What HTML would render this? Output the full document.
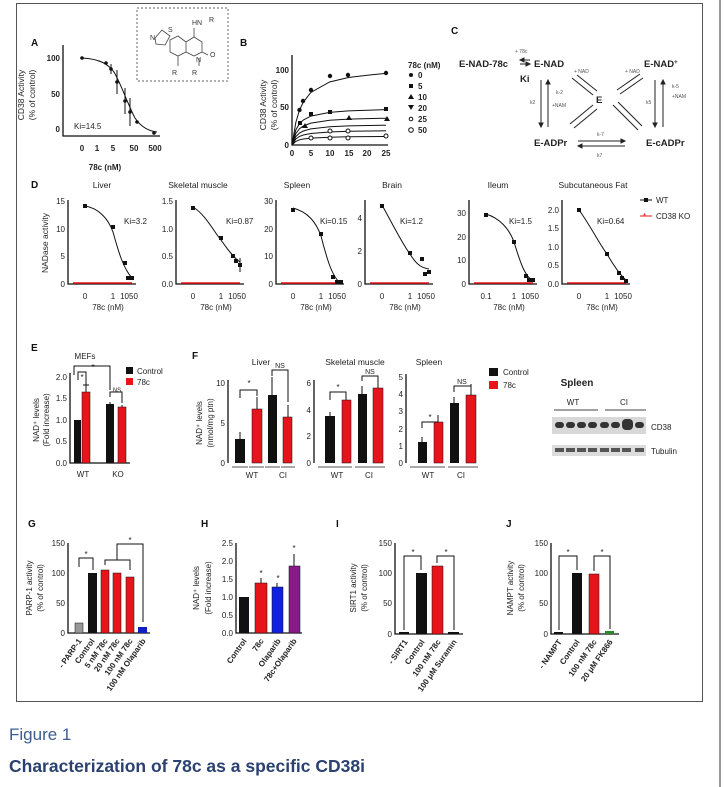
<!DOCTYPE html>
<html><head><meta charset="utf-8"><style>
html,body{margin:0;padding:0;background:#fff;}
svg{display:block;font-family:"Liberation Sans",sans-serif;}
.t{font-size:8px;fill:#222;}
.tb{font-size:8px;fill:#222;font-weight:bold;}
.ti{font-size:8.5px;fill:#222;}
.L{font-size:10px;font-weight:bold;fill:#111;}
.ax{stroke:#111;stroke-width:1.3;fill:none;}
.cv{stroke:#111;stroke-width:1;fill:none;}
.rd{stroke:#e8141c;stroke-width:1.5;}
</style></head><body>
<svg width="724" height="787" viewBox="0 0 724 787">
<rect x="16.5" y="3.5" width="686" height="698" fill="none" stroke="#555" stroke-width="1"/>
<line x1="720" y1="0" x2="720" y2="787" stroke="#999" stroke-width="2"/>

<!-- Panel A -->
<text class="L" x="31" y="46">A</text>
<rect x="137" y="8" width="91" height="73" fill="none" stroke="#666" stroke-dasharray="2,2"/>
<g font-size="7" fill="#333">
<text x="150" y="40">N</text><text x="168" y="32">S</text><text x="192" y="25">HN</text><text x="209" y="22">R</text>
<text x="210" y="57">O</text><text x="196" y="62">N</text><text x="172" y="75">R</text><text x="192" y="75">R</text>
</g>
<path d="M155,38 L162,30 L170,36 L165,45 L156,44 Z M170,40 L178,36 L186,42 L186,52 L178,56 L170,52 Z M186,42 L194,37 L202,42 L202,52 L194,56 L186,52 M194,37 L194,28 M202,52 L208,55 M178,56 L178,66 M199,58 L199,66" stroke="#444" stroke-width="0.8" fill="none"/>
<text class="ti" transform="translate(24,95) rotate(-90)" text-anchor="middle">CD38 Activity</text>
<text class="ti" transform="translate(35,95) rotate(-90)" text-anchor="middle">(% of control)</text>
<path class="ax" d="M63,45 V136 H160"/>
<g class="tb" text-anchor="end"><text x="60" y="61">100</text><text x="60" y="97">50</text><text x="60" y="132">0</text></g>
<g class="tb" text-anchor="middle"><text x="82" y="151">0</text><text x="97" y="151">1</text><text x="113" y="151">5</text><text x="134" y="151">50</text><text x="155" y="151">500</text></g>
<text class="tb" x="105" y="170" text-anchor="middle" font-size="8.5">78c (nM)</text>
<text class="t" x="74" y="129">Ki=14.5</text>
<path class="cv" d="M82,58 C100,59 108,64 114,72 C122,86 128,105 135,118 C141,127 148,131 157,132"/>
<g fill="#111"><circle cx="82" cy="58" r="1.8"/><circle cx="106" cy="63" r="1.8"/><circle cx="111" cy="69" r="1.8"/><circle cx="117" cy="82" r="1.8"/><circle cx="125" cy="101" r="1.8"/><circle cx="130" cy="112" r="1.8"/><circle cx="137" cy="122" r="1.8"/><circle cx="154" cy="133" r="1.8"/></g>
<path class="cv" d="M117,70 V94 M125,88 V114 M130,98 V126 M111,64 V74"/>

<!-- Panel B -->
<text class="L" x="240" y="46">B</text>
<text class="ti" transform="translate(266,105) rotate(-90)" text-anchor="middle">CD38 Activity</text>
<text class="ti" transform="translate(277,105) rotate(-90)" text-anchor="middle">(% of control)</text>
<path class="ax" d="M292,55 V145 H388"/>
<g class="tb" text-anchor="end"><text x="289" y="73">100</text><text x="289" y="110">50</text><text x="289" y="148">0</text></g>
<g class="tb" text-anchor="middle"><text x="292" y="156">0</text><text x="311" y="156">5</text><text x="330" y="156">10</text><text x="349" y="156">15</text><text x="367" y="156">20</text><text x="386" y="156">25</text></g>
<g class="cv">
<path d="M292,145 L295.8,122.5 L299.5,110 L303.3,102.2 L310.8,92.5 L329.6,82 L348.4,77.5 L367.2,75.2 L386,73.4"/>
<path d="M292,145 L295.8,130 L299.5,123.6 L303.3,120 L310.8,116.1 L329.6,112.4 L348.4,110.9 L386,109.6"/>
<path d="M292,145 L295.8,133.6 L299.5,128.7 L303.3,126 L310.8,123.1 L329.6,120.2 L348.4,119.1 L386,118.2"/>
<path d="M292,145 L295.8,136.6 L299.5,133 L303.3,131 L310.8,128.9 L329.6,126.8 L348.4,125.9 L386,125.2"/>
<path d="M292,145 L295.8,139 L299.5,136.4 L303.3,135 L310.8,133.5 L329.6,132 L348.4,131.3 L386,130.8"/>
<path d="M292,145 L295.8,141.4 L299.5,139.8 L303.3,139 L310.8,138.1 L329.6,137.2 L348.4,136.8 L386,136.5"/>
</g>
<g fill="#111"><circle cx="299.5" cy="110" r="2.2"/><circle cx="303" cy="101" r="2.2"/><circle cx="311" cy="90" r="2.2"/><circle cx="330" cy="76" r="2.2"/><circle cx="348" cy="75" r="2.2"/><circle cx="386" cy="73" r="2.2"/>
<rect x="298" y="121" width="4" height="4"/><rect x="309" y="112" width="4" height="4"/><rect x="328" y="110" width="4" height="4"/><rect x="384" y="107" width="4" height="4"/>
<path d="M346,120 l3,-5 l3,5z M384,121 l3,-5 l3,5z M302,128 l3,-5 l3,5z"/></g>
<g fill="#fff" stroke="#111"><circle cx="348" cy="131" r="2"/><circle cx="330" cy="131" r="2"/><circle cx="311" cy="138" r="2"/><circle cx="330" cy="138" r="2"/><circle cx="348" cy="138" r="2"/><circle cx="386" cy="136" r="2"/></g>
<text class="tb" x="408" y="68">78c (nM)</text>
<g class="tb"><circle cx="411" cy="75" r="2" fill="#111"/><text x="418" y="78">0</text>
<rect x="409" y="84" width="4" height="4" fill="#111"/><text x="418" y="89">5</text>
<path d="M408,99 l3,-5 l3,5z" fill="#111"/><text x="418" y="100">10</text>
<path d="M408,105 l3,5 l3,-5z" fill="#111"/><text x="418" y="111">20</text>
<circle cx="411" cy="119" r="1.8" fill="none" stroke="#111"/><text x="418" y="122">25</text>
<circle cx="411" cy="130" r="2.3" fill="none" stroke="#111"/><text x="418" y="133">50</text></g>

<!-- Panel C -->
<text class="L" x="451" y="34">C</text>
<g font-size="9.5" font-weight="bold" fill="#222">
<text x="459" y="67">E-NAD-78c</text><text x="534" y="67">E-NAD</text><text x="520" y="82">Ki</text>
<text x="644" y="67">E-NAD<tspan font-size="6" dy="-3">+</tspan></text><text x="596" y="103">E</text>
<text x="534" y="146">E-ADPr</text><text x="646" y="146">E-cADPr</text></g>
<g font-size="5" fill="#555"><text x="515" y="53">+ 78c</text><text x="574" y="73">+ NAD</text><text x="625" y="73">+ NAD</text>
<text x="552" y="107">+NAM</text><text x="672" y="98">+NAM</text><text x="530" y="104">k2</text><text x="556" y="94">k-2</text><text x="646" y="104">k5</text><text x="672" y="88">k-5</text><text x="597" y="136">k-7</text><text x="597" y="157">k7</text></g>
<g stroke="#222" stroke-width="1" fill="#222">
<path d="M520,60 H530 M520,64 H530" /><path d="M541,80 V127 M548,127 V80 M655,80 V127 M663,127 V80 M572,78 L593,95 M577,75 L597,91 M617,90 L640,74 M620,94 L643,78 M593,105 L570,124 M597,109 L574,128 M613,105 L638,130 M618,102 L642,126 M578,141 H625 M578,146 H625"/>
<path d="M541,127 l-2,-4 h4z M548,80 l-2,4 h4z M655,127 l-2,-4 h4z M663,80 l-2,4 h4z M625,141 l-4,-2 v4z M578,146 l4,-2 v4z M520,60 l4,-2 v4z M530,64 l-4,-2 v4z"/>
</g>

<!-- Panel D -->
<text class="L" x="31" y="188">D</text>
<text class="ti" transform="translate(48,243) rotate(-90)" text-anchor="middle">NADase activity</text>
<g class="ti" text-anchor="middle"><text x="102" y="188">Liver</text><text x="198" y="188">Skeletal muscle</text><text x="297" y="188">Spleen</text><text x="392" y="188">Brain</text><text x="498" y="188">Ileum</text><text x="593" y="188">Subcutaneous Fat</text></g>
<g transform="translate(68,0)">
<path class="ax" d="M0,200 V284 H68"/><line class="rd" x1="5" y1="283" x2="64" y2="283"/>
<g class="t" text-anchor="end"><text x="-3" y="204">15</text><text x="-3" y="232">10</text><text x="-3" y="259">5</text><text x="-3" y="287">0</text></g>
<path class="cv" d="M17,206 C30,208 40,218 45,232 C50,250 55,268 64,278"/>
<g fill="#111"><rect x="15" y="204" width="4" height="4"/><rect x="43" y="225" width="4" height="4"/><rect x="55" y="261" width="4" height="4"/><rect x="58" y="276" width="4" height="4"/><rect x="62" y="276" width="4" height="4"/></g>
<text class="t" x="56" y="224">Ki=3.2</text></g>
<g transform="translate(176,0)">
<path class="ax" d="M0,200 V284 H68"/><line class="rd" x1="5" y1="283" x2="64" y2="283"/>
<g class="t" text-anchor="end"><text x="-3" y="204">1.5</text><text x="-3" y="232">1.0</text><text x="-3" y="259">0.5</text><text x="-3" y="287">0.0</text></g>
<path class="cv" d="M17,207 C30,215 38,232 45,240 C52,250 58,258 64,262"/>
<g fill="#111"><rect x="15" y="206" width="4" height="4"/><rect x="43" y="236" width="4" height="4"/><rect x="55" y="254" width="4" height="4"/><rect x="58" y="259" width="4" height="4"/><rect x="62" y="263" width="4" height="4"/></g>
<path class="cv" d="M64,258 V272"/><text class="t" x="50" y="224">Ki=0.87</text></g>
<g transform="translate(276,0)">
<path class="ax" d="M0,200 V284 H68"/><line class="rd" x1="5" y1="283" x2="64" y2="283"/>
<g class="t" text-anchor="end"><text x="-3" y="204">30</text><text x="-3" y="232">20</text><text x="-3" y="259">10</text><text x="-3" y="287">0</text></g>
<path class="cv" d="M17,208 C32,212 40,222 45,236 C50,255 55,275 64,283"/>
<g fill="#111"><rect x="15" y="208" width="4" height="4"/><rect x="43" y="232" width="4" height="4"/><rect x="55" y="275" width="4" height="4"/><rect x="59" y="280" width="4" height="4"/><rect x="63" y="280" width="4" height="4"/></g>
<text class="t" x="44" y="224">Ki=0.15</text></g>
<g transform="translate(365,0)">
<path class="ax" d="M0,200 V284 H68"/><line class="rd" x1="5" y1="283" x2="64" y2="283"/>
<g class="t" text-anchor="end"><text x="-3" y="221">4</text><text x="-3" y="254">2</text><text x="-3" y="287">0</text></g>
<path class="cv" d="M17,205 C28,225 38,245 45,254 C52,266 58,268 64,269"/>
<g fill="#111"><rect x="15" y="204" width="4" height="4"/><rect x="43" y="251" width="4" height="4"/><rect x="55" y="257" width="4" height="4"/><rect x="58" y="272" width="4" height="4"/><rect x="62" y="270" width="4" height="4"/></g>
<text class="t" x="35" y="224">Ki=1.2</text></g>
<g transform="translate(469,0)">
<path class="ax" d="M0,200 V284 H68"/><line class="rd" x1="5" y1="283" x2="64" y2="283"/>
<g class="t" text-anchor="end"><text x="-3" y="216">30</text><text x="-3" y="240">20</text><text x="-3" y="263">10</text><text x="-3" y="287">0</text></g>
<path class="cv" d="M17,214 C30,218 40,228 45,242 C50,258 55,276 64,281"/>
<g fill="#111"><rect x="15" y="213" width="4" height="4"/><rect x="43" y="240" width="4" height="4"/><rect x="55" y="274" width="4" height="4"/><rect x="58" y="278" width="4" height="4"/><rect x="62" y="278" width="4" height="4"/></g>
<text class="t" x="40" y="224">Ki=1.5</text></g>
<g transform="translate(562,0)">
<path class="ax" d="M0,200 V284 H68"/><line class="rd" x1="5" y1="283" x2="64" y2="283"/>
<g class="t" text-anchor="end"><text x="-3" y="213">2.0</text><text x="-3" y="231">1.5</text><text x="-3" y="250">1.0</text><text x="-3" y="268">0.5</text><text x="-3" y="287">0.0</text></g>
<path class="cv" d="M17,210 C28,225 38,245 45,254 C52,266 58,275 64,280"/>
<g fill="#111"><rect x="15" y="208" width="4" height="4"/><rect x="43" y="252" width="4" height="4"/><rect x="55" y="271" width="4" height="4"/><rect x="58" y="276" width="4" height="4"/><rect x="62" y="279" width="4" height="4"/></g>
<text class="t" x="35" y="224">Ki=0.64</text></g>
<g class="t" text-anchor="middle">
<text x="85" y="299">0</text><text x="113" y="299">1</text><text x="129" y="299">1050</text><text x="108" y="310">78c (nM)</text>
<text x="193" y="299">0</text><text x="221" y="299">1</text><text x="237" y="299">1050</text><text x="216" y="310">78c (nM)</text>
<text x="293" y="299">0</text><text x="321" y="299">1</text><text x="337" y="299">1050</text><text x="316" y="310">78c (nM)</text>
<text x="382" y="299">0</text><text x="410" y="299">1</text><text x="426" y="299">1050</text><text x="405" y="310">78c (nM)</text>
<text x="486" y="299">0.1</text><text x="514" y="299">1</text><text x="530" y="299">1050</text><text x="509" y="310">78c (nM)</text>
<text x="579" y="299">0</text><text x="607" y="299">1</text><text x="623" y="299">1050</text><text x="602" y="310">78c (nM)</text></g>
<g class="t"><rect x="644" y="198" width="4" height="4" fill="#111"/><line x1="640" y1="200" x2="652" y2="200" stroke="#111"/><text x="656" y="203">WT</text>
<line x1="640" y1="216" x2="652" y2="216" stroke="#e8141c"/><text x="643" y="219" fill="#e8141c">*</text><text x="656" y="219">CD38 KO</text></g>

<!-- Panel E -->
<text class="L" x="31" y="351">E</text>
<text class="t" x="85" y="359" text-anchor="middle">MEFs</text>
<text class="t" transform="translate(39,420) rotate(-90)" text-anchor="middle">NAD⁺ levels</text>
<text class="t" transform="translate(49,420) rotate(-90)" text-anchor="middle">(Fold increase)</text>
<path class="ax" d="M70,373 V463 H130"/>
<g class="t" text-anchor="end"><text x="67" y="380">2.0</text><text x="67" y="401">1.5</text><text x="67" y="423">1.0</text><text x="67" y="444">0.5</text><text x="67" y="466">0.0</text></g>
<rect x="74" y="420" width="7" height="43" fill="#111"/><rect x="82" y="392" width="8" height="71" fill="#e8141c" stroke="#111" stroke-width=".5"/>
<rect x="106" y="404" width="8" height="59" fill="#111"/><rect x="118" y="407" width="8" height="56" fill="#e8141c" stroke="#111" stroke-width=".5"/>
<path class="cv" d="M86,392 V385 M83,385 h6 M78,380 V372 H86 V385 M110,404 V402 M122,407 V405 M110,397 V392 H122 V403 M74,375 V366 H110 V390"/>
<g class="t" text-anchor="middle"><text x="82" y="380">*</text><text x="93" y="370">*</text><text x="117" y="392" font-size="6">NS</text>
<text x="83" y="477">WT</text><text x="118" y="477">KO</text></g>
<rect x="126" y="367" width="7" height="7" fill="#111"/><text class="t" x="137" y="374">Control</text>
<rect x="126" y="378" width="7" height="7" fill="#e8141c"/><text class="t" x="137" y="385">78c</text>

<!-- Panel F -->
<text class="L" x="192" y="359">F</text>
<text class="t" transform="translate(202,423) rotate(-90)" text-anchor="middle">NAD⁺ levels</text>
<text class="t" transform="translate(213,423) rotate(-90)" text-anchor="middle">(nmol/mg ptn)</text>
<g class="ti" text-anchor="middle"><text x="261" y="365">Liver</text><text x="355" y="365">Skeletal muscle</text><text x="429" y="365">Spleen</text></g>
<path class="ax" d="M228,380 V463 M314,380 V463 M406,374 V463"/>
<g class="t" text-anchor="end"><text x="225" y="386">10</text><text x="225" y="426">5</text><text x="225" y="466">0</text>
<text x="311" y="386">6</text><text x="311" y="413">4</text><text x="311" y="439">2</text><text x="311" y="466">0</text>
<text x="403" y="380">5</text><text x="403" y="397">4</text><text x="403" y="414">3</text><text x="403" y="432">2</text><text x="403" y="449">1</text><text x="403" y="466">0</text></g>
<g fill="#111"><rect x="235" y="439" width="10" height="24"/><rect x="268" y="395" width="9" height="68"/>
<rect x="325" y="416" width="10" height="47"/><rect x="358" y="394" width="9" height="69"/>
<rect x="418" y="442" width="9" height="21"/><rect x="450" y="403" width="9" height="60"/></g>
<g fill="#e8141c" stroke="#111" stroke-width=".5"><rect x="252" y="409" width="10" height="54"/><rect x="283" y="417" width="9" height="46"/>
<rect x="342" y="400" width="9" height="63"/><rect x="373" y="388" width="10" height="75"/>
<rect x="434" y="422" width="9" height="41"/><rect x="466" y="395" width="10" height="68"/></g>
<path class="cv" d="M240,439 V432 M257,409 V397 M272,395 V377 M288,417 V405 M330,416 V412 M346,400 V392 M362,394 V386 M378,388 V380 M422,442 V437 M438,422 V416 M454,403 V397 M471,395 V385
M240,398 V390 H257 V396 M272,376 V370 H288 V402 M330,400 V392 H346 V398 M362,381 V376 H378 V386 M422,428 V422 H438 V415 M454,392 V386 H471 V384"/>
<path d="M232,467 H248 M249,467 H264 M265,467 H280 M281,467 H295 M318,467 H352 M355,467 H385 M410,467 H445 M448,467 H478" stroke="#777" stroke-width="1.2"/>
<g class="t" text-anchor="middle"><text x="249" y="386">*</text><text x="280" y="368" font-size="7">NS</text><text x="338" y="390">*</text><text x="370" y="374" font-size="7">NS</text><text x="430" y="420">*</text><text x="462" y="384" font-size="7">NS</text>
<text x="252" y="478">WT</text><text x="283" y="478">CI</text><text x="337" y="478">WT</text><text x="369" y="478">CI</text><text x="428" y="478">WT</text><text x="461" y="478">CI</text></g>
<rect x="489" y="368" width="9" height="8" fill="#111"/><text class="t" x="503" y="375" font-size="8.5">Control</text>
<rect x="489" y="381" width="9" height="8" fill="#e8141c"/><text class="t" x="503" y="388" font-size="8.5">78c</text>
<text x="577" y="386" text-anchor="middle" font-size="10" font-weight="bold" fill="#222">Spleen</text>
<text class="t" x="573" y="405" text-anchor="middle">WT</text><text class="t" x="624" y="405" text-anchor="middle">CI</text>
<path d="M554,410 H598 M605,410 H646" stroke="#444"/>
<rect x="552" y="417" width="94" height="17" fill="#d8d8d8"/>
<g fill="#333"><rect x="555" y="422" width="9" height="6" rx="3"/><rect x="566" y="422" width="9" height="6" rx="3"/><rect x="577" y="422" width="9" height="6" rx="3"/><rect x="588" y="422" width="9" height="6" rx="3"/><rect x="600" y="422" width="9" height="6" rx="3"/><rect x="611" y="422" width="9" height="6" rx="3"/><rect x="622" y="419" width="11" height="11" rx="4"/><rect x="635" y="422" width="9" height="6" rx="3"/></g>
<rect x="552" y="445" width="94" height="11" fill="#dcdcdc"/>
<g fill="#555"><rect x="555" y="448" width="9" height="4"/><rect x="566" y="448" width="9" height="4"/><rect x="577" y="448" width="9" height="4"/><rect x="588" y="448" width="9" height="4"/><rect x="600" y="448" width="9" height="4"/><rect x="611" y="448" width="9" height="4"/><rect x="622" y="448" width="9" height="4"/><rect x="635" y="448" width="9" height="4"/></g>
<text class="t" x="651" y="430">CD38</text><text class="t" x="651" y="454">Tubulin</text>

<!-- Panel G -->
<text class="L" x="28" y="527">G</text>
<text class="t" transform="translate(32,588) rotate(-90)" text-anchor="middle">PARP-1 activity</text>
<text class="t" transform="translate(43,588) rotate(-90)" text-anchor="middle">(% of control)</text>
<path class="ax" d="M68,543 V633 H150"/>
<g class="t" text-anchor="end"><text x="65" y="546">150</text><text x="65" y="576">100</text><text x="65" y="606">50</text><text x="65" y="636">0</text></g>
<rect x="75" y="623" width="8" height="10" fill="#999" stroke="#111" stroke-width=".5"/><rect x="88" y="573" width="9" height="60" fill="#111"/>
<g fill="#e8141c" stroke="#111" stroke-width=".5"><rect x="101" y="570" width="8" height="63"/><rect x="113" y="573" width="8" height="60"/><rect x="126" y="577" width="8" height="56"/></g>
<rect x="138" y="627" width="9" height="6" fill="#1020c0"/>
<path class="cv" d="M79,567 V558 H93 V570 M105,565 V560 H130 V570 M117,560 V555 M117,555 V544 H143 V622"/>
<g class="t" text-anchor="middle"><text x="86" y="557">*</text><text x="130" y="543">*</text></g>
<g class="tb" text-anchor="end">
<text transform="translate(82,641) rotate(-55)">- PARP-1</text><text transform="translate(95,641) rotate(-55)">Control</text>
<text transform="translate(108,641) rotate(-55)">5 nM 78c</text><text transform="translate(120,641) rotate(-55)">20 nM 78c</text>
<text transform="translate(133,641) rotate(-55)">100 nM 78c</text><text transform="translate(146,641) rotate(-55)">100 nM Olaparib</text></g>

<!-- Panel H -->
<text class="L" x="201" y="527">H</text>
<text class="t" transform="translate(199,588) rotate(-90)" text-anchor="middle">NAD⁺ levels</text>
<text class="t" transform="translate(211,588) rotate(-90)" text-anchor="middle">(Fold increase)</text>
<path class="ax" d="M236,543 V633 H302"/>
<g class="t" text-anchor="end"><text x="233" y="546">2.5</text><text x="233" y="564">2.0</text><text x="233" y="582">1.5</text><text x="233" y="600">1.0</text><text x="233" y="618">0.5</text><text x="233" y="636">0.0</text></g>
<rect x="239" y="597" width="10" height="36" fill="#111"/><rect x="255" y="583" width="12" height="50" fill="#e8141c" stroke="#111" stroke-width=".5"/>
<rect x="272" y="587" width="11" height="46" fill="#1020e0" stroke="#111" stroke-width=".5"/><rect x="289" y="566" width="11" height="67" fill="#8a1a8a" stroke="#111" stroke-width=".5"/>
<path class="cv" d="M261,583 V578 M277,587 V583 M294,566 V554"/>
<g class="t" text-anchor="middle"><text x="261" y="576">*</text><text x="278" y="581">*</text><text x="294" y="551">*</text></g>
<g class="tb" text-anchor="end">
<text transform="translate(247,641) rotate(-55)">Control</text><text transform="translate(264,641) rotate(-55)">78c</text>
<text transform="translate(281,641) rotate(-55)">Olaparib</text><text transform="translate(297,641) rotate(-55)">78c+Olaparib</text></g>

<!-- Panel I -->
<text class="L" x="336" y="527">I</text>
<text class="t" transform="translate(356,588) rotate(-90)" text-anchor="middle">SIRT1 activity</text>
<text class="t" transform="translate(367,588) rotate(-90)" text-anchor="middle">(% of control)</text>
<path class="ax" d="M395,543 V634 H463"/>
<g class="t" text-anchor="end"><text x="392" y="546">150</text><text x="392" y="576">100</text><text x="392" y="606">50</text><text x="392" y="637">0</text></g>
<rect x="399" y="632" width="10" height="2" fill="#111"/><rect x="416" y="573" width="11" height="61" fill="#111"/>
<rect x="432" y="566" width="11" height="68" fill="#e8141c" stroke="#111" stroke-width=".5"/><rect x="448" y="632" width="11" height="2" fill="#111"/>
<path class="cv" d="M404,630 V556 H421 V570 M437,563 V556 H454 V630"/>
<g class="t" text-anchor="middle"><text x="413" y="555">*</text><text x="446" y="555">*</text></g>
<g class="tb" text-anchor="end">
<text transform="translate(408,642) rotate(-55)">- SIRT1</text><text transform="translate(425,642) rotate(-55)">Control</text>
<text transform="translate(441,642) rotate(-55)">100 nM 78c</text><text transform="translate(457,642) rotate(-55)">100 μM Suramin</text></g>

<!-- Panel J -->
<text class="L" x="506" y="527">J</text>
<text class="t" transform="translate(513,588) rotate(-90)" text-anchor="middle">NAMPT activity</text>
<text class="t" transform="translate(524,588) rotate(-90)" text-anchor="middle">(% of control)</text>
<path class="ax" d="M551,543 V634 H619"/>
<g class="t" text-anchor="end"><text x="548" y="546">150</text><text x="548" y="576">100</text><text x="548" y="606">50</text><text x="548" y="637">0</text></g>
<rect x="554" y="632" width="9" height="2" fill="#111"/><rect x="572" y="573" width="10" height="61" fill="#111"/>
<rect x="589" y="574" width="10" height="60" fill="#e8141c" stroke="#111" stroke-width=".5"/><rect x="605" y="631" width="9" height="3" fill="#2a8a2a"/>
<path class="cv" d="M559,630 V556 H577 V570 M594,571 V556 H610 V629"/>
<g class="t" text-anchor="middle"><text x="568" y="555">*</text><text x="602" y="555">*</text></g>
<g class="tb" text-anchor="end">
<text transform="translate(562,642) rotate(-55)">- NAMPT</text><text transform="translate(580,642) rotate(-55)">Control</text>
<text transform="translate(597,642) rotate(-55)">100 nM 78c</text><text transform="translate(613,642) rotate(-55)">20 μM FK866</text></g>

<!-- Caption -->
<text x="9" y="740" font-size="17" fill="#3d5c8f">Figure 1</text>
<text x="9" y="772" font-size="17.5" font-weight="bold" fill="#2b4170">Characterization of 78c as a specific CD38i</text>
</svg>
</body></html>
